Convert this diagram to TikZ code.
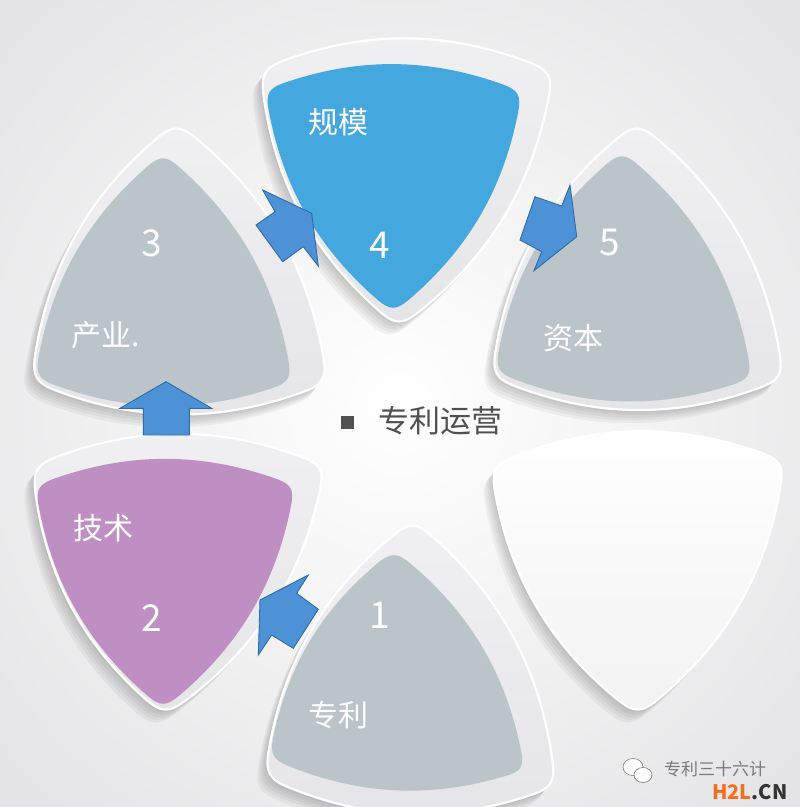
\documentclass[tikz,border=0pt]{standalone}
\usepackage{fontspec}
\setmainfont{Noto Sans CJK SC}
\usetikzlibrary{calc}
\definecolor{bgout}{HTML}{E4E4E6}
\definecolor{rim}{HTML}{E5E5E7}
\definecolor{rimtop}{HTML}{F0F0F2}
\definecolor{grayin}{HTML}{BAC4C9}
\definecolor{bluein}{HTML}{44A7DE}
\definecolor{purplein}{HTML}{BF8EC2}
\definecolor{arrowfill}{HTML}{4D92D6}
\definecolor{arrowline}{HTML}{2E6BA8}
\definecolor{titlegray}{HTML}{505050}
\definecolor{wmgray}{HTML}{7A7A7A}
\definecolor{h2lorange}{HTML}{F07020}

\newcommand\defplate[5]{%
 \coordinate (#1A) at #2; \coordinate (#1B) at #3; \coordinate (#1C) at #4;
 \coordinate (#1AB) at ($(#1A)!#5!(#1B)$);
 \coordinate (#1BA) at ($(#1B)!#5!(#1A)$);
 \coordinate (#1BC) at ($(#1B)!#5!(#1C)$);
 \coordinate (#1CB) at ($(#1C)!#5!(#1B)$);
 \coordinate (#1CA) at ($(#1C)!#5!(#1A)$);
 \coordinate (#1AC) at ($(#1A)!#5!(#1C)$);
}
\newcommand\platepath[2]{%
 (#1AB) .. controls ($(#1AB)!0.36!#2:(#1BA)$) and ($(#1BA)!0.36!-#2:(#1AB)$) .. (#1BA)
 .. controls ($(#1BA)!0.55!-#2:(#1B)$) and ($(#1BC)!0.55!#2:(#1B)$) .. (#1BC)
 .. controls ($(#1BC)!0.36!#2:(#1CB)$) and ($(#1CB)!0.36!-#2:(#1BC)$) .. (#1CB)
 .. controls ($(#1CB)!0.55!-#2:(#1C)$) and ($(#1CA)!0.55!#2:(#1C)$) .. (#1CA)
 .. controls ($(#1CA)!0.36!#2:(#1AC)$) and ($(#1AC)!0.36!-#2:(#1CA)$) .. (#1AC)
 .. controls ($(#1AC)!0.55!-#2:(#1A)$) and ($(#1AB)!0.55!#2:(#1A)$) .. (#1AB) -- cycle}

\tikzset{
  outerplate/.style={top color=rimtop, bottom color=rim, draw=white, line width=2.2pt},
  shadowlayer/.style={fill=black, opacity=0.045},
  numlabel/.style={text=white, font=\fontsize{37}{40}\selectfont, inner sep=0pt},
  cnlabel/.style={text=white, font=\fontsize{30}{34}\selectfont, inner sep=0pt},
  blockarrow/.style={fill=arrowfill, draw=arrowline, line width=0.9pt, line join=miter},
}

\begin{document}
\begin{tikzpicture}[x=1pt, y=-1pt]
\useasboundingbox (0,0) rectangle (800,807);
\shade[inner color=white, outer color=bgout] (-150,-150) rectangle (950,957);

% plate geometry (visual clockwise corner order)
\defplate{p3o}{(176,102)}{(345,393)}{(14,391)}{44pt}
\defplate{p3i}{(163,138)}{(305,389)}{(22,385)}{34pt}
\defplate{p4o}{(243,59)}{(571,62)}{(398,348)}{44pt}
\defplate{p4i}{(252,82)}{(535,84)}{(393,328)}{34pt}
\defplate{p5o}{(637,102)}{(801,389)}{(474,387)}{44pt}
\defplate{p5i}{(622,136)}{(765,386)}{(482,379)}{34pt}
\defplate{p2o}{(15,456)}{(343,456)}{(164,736)}{44pt}
\defplate{p2i}{(22,478)}{(308,478)}{(163,724)}{34pt}
\defplate{p1o}{(413,499)}{(573,797)}{(247,787)}{44pt}
\defplate{p1i}{(394,535)}{(538,778)}{(256,765)}{34pt}
\defplate{p6o}{(473,456)}{(802,451)}{(638,736)}{44pt}

% shadows
\foreach \d in {2,4,6,8,10}{
  \begin{scope}[transform canvas={shift={(-\d pt,-1.3*\d pt)}}]
    \foreach \p in {p3o,p4o,p5o,p2o,p1o,p6o}{
      \fill[shadowlayer] \platepath{\p}{20};
    }
  \end{scope}
}

% outer plates
\foreach \p in {p3o,p4o,p5o,p2o,p1o}{
  \shade[outerplate] \platepath{\p}{20};
}
\shade[top color=white, bottom color=white!95!black, draw=white, line width=2.2pt] \platepath{p6o}{20};

% inner coloured faces
\fill[grayin] \platepath{p3i}{19};
\fill[bluein] \platepath{p4i}{19};
\fill[grayin] \platepath{p5i}{19};
\fill[purplein] \platepath{p2i}{19};
\fill[grayin] \platepath{p1i}{19};

% block arrows
\draw[blockarrow] (166,381.7) -- (211.7,408.3) -- (189.3,408.3) -- (189.3,435) -- (143.3,435) -- (143.3,408.3) -- (120,408.3) -- cycle;
\draw[blockarrow] (311.7,213.3) -- (318.3,266) -- (303.3,246.7) -- (282.7,261.7) -- (256,225) -- (275,211.7) -- (262.7,190) -- cycle;
\draw[blockarrow] (576.7,236.7) -- (534,270.7) -- (541.7,251.7) -- (520,240) -- (535,196.7) -- (561.7,206) -- (570,185) -- cycle;
\draw[blockarrow] (260,600) -- (258.3,655) -- (271.7,635) -- (293.3,648.3) -- (318.3,609.3) -- (296.7,593.3) -- (308.3,575) -- cycle;

% labels
\node[numlabel] (n3) at (152,243) {3};
\node[cnlabel, anchor=west] (t3) at (71,335) {产业.};
\node[cnlabel] (t4) at (338,122) {规模};
\node[numlabel] (n4) at (380,245) {4};
\node[numlabel] (n5) at (610,243) {5};
\node[cnlabel] (t5) at (573,338) {资本};
\node[cnlabel] (t2) at (103,528) {技术};
\node[numlabel] (n2) at (152,618) {2};
\node[numlabel] (n1) at (380,615) {1};
\node[cnlabel] (t1) at (338,715) {专利};

% centre title
\node[fill=titlegray, minimum size=13pt, inner sep=0pt] (bullet) at (347,422) {};
\node[text=titlegray, font=\fontsize{31}{34}\selectfont, inner sep=0pt] (title) at (440,421) {专利运营};

% watermark
\draw[wmgray, fill=white, line width=0.6pt] (633,767) ellipse (10pt and 8.5pt);
\draw[wmgray, fill=white, line width=0.6pt] (643,775) ellipse (9pt and 7.5pt);
\node[text=wmgray, font=\fontsize{17}{19}\selectfont, inner sep=0pt, anchor=west] (wm) at (664,769) {专利三十六计};
\node[font=\bfseries\fontsize{20}{22}\selectfont, inner sep=0pt, anchor=west] (h2l) at (712,792) {\textcolor{h2lorange}{H2L}\textcolor{black!80}{.CN}};
\end{tikzpicture}
\end{document}
